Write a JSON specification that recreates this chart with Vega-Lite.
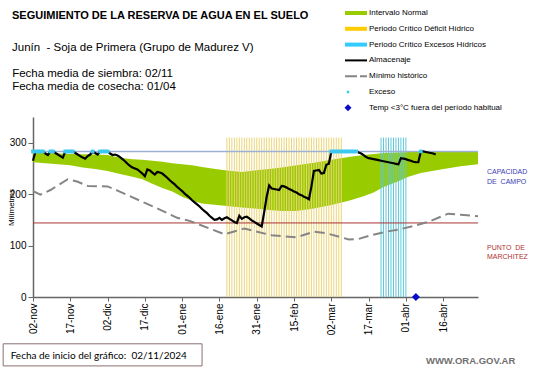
{
  "$schema": "https://vega.github.io/schema/vega-lite/v6.json",
  "width": 445,
  "height": 180,
  "autosize": "none",
  "padding": {"left": 33, "top": 117, "right": 63, "bottom": 71},
  "background": "white",
  "config": {"font": "Liberation Sans", "view": {"stroke": null}, "axisY": {"labelOverlap": false, "labelSeparation": -40, "labelBound": false}},
  "title": {
    "text": "SEGUIMIENTO DE LA RESERVA DE AGUA EN EL SUELO",
    "subtitle": "Junín\u00a0 - Soja de Primera (Grupo de Madurez V)",
    "anchor": "start",
    "frame": "group",
    "dx": -21,
    "offset": -45.6,
    "font": "Liberation Sans",
    "fontSize": 11,
    "fontWeight": "bold",
    "color": "#000000",
    "subtitleFont": "Liberation Sans",
    "subtitleFontSize": 11.5,
    "subtitleColor": "#000000",
    "subtitleLineHeight": 12.7,
    "subtitlePadding": 21
  },
  "datasets": {
    "banda": [
      {"fecha": "2024-11-02", "inf": 262, "sup": 281},
      {"fecha": "2024-11-07", "inf": 260, "sup": 280},
      {"fecha": "2024-11-12", "inf": 258, "sup": 279},
      {"fecha": "2024-11-17", "inf": 256, "sup": 278},
      {"fecha": "2024-11-22", "inf": 252, "sup": 277.5},
      {"fecha": "2024-11-27", "inf": 249, "sup": 277},
      {"fecha": "2024-12-02", "inf": 245, "sup": 276},
      {"fecha": "2024-12-07", "inf": 239, "sup": 271},
      {"fecha": "2024-12-12", "inf": 234, "sup": 268},
      {"fecha": "2024-12-16", "inf": 229, "sup": 267},
      {"fecha": "2024-12-20", "inf": 220, "sup": 265},
      {"fecha": "2024-12-24", "inf": 212, "sup": 263},
      {"fecha": "2024-12-28", "inf": 205, "sup": 260},
      {"fecha": "2025-01-01", "inf": 195, "sup": 258},
      {"fecha": "2025-01-05", "inf": 187, "sup": 256},
      {"fecha": "2025-01-09", "inf": 182, "sup": 253},
      {"fecha": "2025-01-13", "inf": 180, "sup": 250},
      {"fecha": "2025-01-19", "inf": 177, "sup": 246},
      {"fecha": "2025-01-25", "inf": 174, "sup": 243},
      {"fecha": "2025-01-30", "inf": 172, "sup": 246},
      {"fecha": "2025-02-05", "inf": 169, "sup": 249},
      {"fecha": "2025-02-10", "inf": 167, "sup": 252},
      {"fecha": "2025-02-16", "inf": 167, "sup": 256},
      {"fecha": "2025-02-23", "inf": 172, "sup": 261},
      {"fecha": "2025-03-02", "inf": 179, "sup": 267},
      {"fecha": "2025-03-09", "inf": 187, "sup": 272},
      {"fecha": "2025-03-15", "inf": 196, "sup": 276},
      {"fecha": "2025-03-19", "inf": 203, "sup": 278},
      {"fecha": "2025-03-23", "inf": 214, "sup": 280},
      {"fecha": "2025-03-29", "inf": 225, "sup": 281},
      {"fecha": "2025-04-02", "inf": 234, "sup": 282},
      {"fecha": "2025-04-07", "inf": 241, "sup": 282.5},
      {"fecha": "2025-04-15", "inf": 248, "sup": 282.5},
      {"fecha": "2025-04-23", "inf": 254, "sup": 282.5},
      {"fecha": "2025-04-30", "inf": 258, "sup": 282.5}
    ],
    "minimo": [
      {"fecha": "2024-11-02", "mm": 206},
      {"fecha": "2024-11-05", "mm": 199},
      {"fecha": "2024-11-09", "mm": 208},
      {"fecha": "2024-11-16", "mm": 229},
      {"fecha": "2024-11-20", "mm": 224},
      {"fecha": "2024-11-24", "mm": 216},
      {"fecha": "2024-12-02", "mm": 215},
      {"fecha": "2024-12-06", "mm": 207},
      {"fecha": "2024-12-17", "mm": 183},
      {"fecha": "2024-12-23", "mm": 170},
      {"fecha": "2024-12-30", "mm": 154},
      {"fecha": "2025-01-04", "mm": 148},
      {"fecha": "2025-01-18", "mm": 122},
      {"fecha": "2025-01-26", "mm": 133},
      {"fecha": "2025-02-06", "mm": 120},
      {"fecha": "2025-02-16", "mm": 116},
      {"fecha": "2025-02-23", "mm": 127},
      {"fecha": "2025-02-28", "mm": 124},
      {"fecha": "2025-03-09", "mm": 112},
      {"fecha": "2025-03-13", "mm": 113},
      {"fecha": "2025-03-18", "mm": 120},
      {"fecha": "2025-03-24", "mm": 127},
      {"fecha": "2025-03-29", "mm": 131},
      {"fecha": "2025-04-04", "mm": 138},
      {"fecha": "2025-04-10", "mm": 146},
      {"fecha": "2025-04-18", "mm": 162},
      {"fecha": "2025-04-23", "mm": 160},
      {"fecha": "2025-04-30", "mm": 157}
    ],
    "almacenaje": [
      {"fecha": "2024-11-02", "mm": 265}, {"fecha": "2024-11-03", "mm": 283}, {"fecha": "2024-11-04", "mm": 283},
      {"fecha": "2024-11-05", "mm": 283}, {"fecha": "2024-11-06", "mm": 283}, {"fecha": "2024-11-07", "mm": 279},
      {"fecha": "2024-11-08", "mm": 276}, {"fecha": "2024-11-09", "mm": 283}, {"fecha": "2024-11-10", "mm": 283},
      {"fecha": "2024-11-11", "mm": 280}, {"fecha": "2024-11-12", "mm": 277}, {"fecha": "2024-11-13", "mm": 274},
      {"fecha": "2024-11-14", "mm": 271}, {"fecha": "2024-11-15", "mm": 283}, {"fecha": "2024-11-16", "mm": 283},
      {"fecha": "2024-11-17", "mm": 283}, {"fecha": "2024-11-18", "mm": 283}, {"fecha": "2024-11-19", "mm": 280},
      {"fecha": "2024-11-20", "mm": 277}, {"fecha": "2024-11-21", "mm": 274}, {"fecha": "2024-11-22", "mm": 271},
      {"fecha": "2024-11-23", "mm": 269}, {"fecha": "2024-11-24", "mm": 274}, {"fecha": "2024-11-25", "mm": 277},
      {"fecha": "2024-11-26", "mm": 283}, {"fecha": "2024-11-27", "mm": 280}, {"fecha": "2024-11-28", "mm": 277},
      {"fecha": "2024-11-29", "mm": 283}, {"fecha": "2024-11-30", "mm": 283}, {"fecha": "2024-12-01", "mm": 283},
      {"fecha": "2024-12-02", "mm": 283}, {"fecha": "2024-12-03", "mm": 279}, {"fecha": "2024-12-04", "mm": 276},
      {"fecha": "2024-12-05", "mm": 277}, {"fecha": "2024-12-06", "mm": 275}, {"fecha": "2024-12-07", "mm": 272},
      {"fecha": "2024-12-08", "mm": 268}, {"fecha": "2024-12-09", "mm": 264}, {"fecha": "2024-12-10", "mm": 259},
      {"fecha": "2024-12-11", "mm": 255}, {"fecha": "2024-12-12", "mm": 252}, {"fecha": "2024-12-13", "mm": 250},
      {"fecha": "2024-12-14", "mm": 248}, {"fecha": "2024-12-15", "mm": 244}, {"fecha": "2024-12-16", "mm": 240},
      {"fecha": "2024-12-17", "mm": 235}, {"fecha": "2024-12-18", "mm": 248}, {"fecha": "2024-12-19", "mm": 246},
      {"fecha": "2024-12-20", "mm": 242}, {"fecha": "2024-12-21", "mm": 238}, {"fecha": "2024-12-22", "mm": 243},
      {"fecha": "2024-12-23", "mm": 242}, {"fecha": "2024-12-24", "mm": 240}, {"fecha": "2024-12-25", "mm": 236},
      {"fecha": "2024-12-26", "mm": 232}, {"fecha": "2024-12-27", "mm": 227}, {"fecha": "2024-12-28", "mm": 223},
      {"fecha": "2024-12-29", "mm": 219}, {"fecha": "2024-12-30", "mm": 214}, {"fecha": "2024-12-31", "mm": 210},
      {"fecha": "2025-01-01", "mm": 206}, {"fecha": "2025-01-02", "mm": 201}, {"fecha": "2025-01-03", "mm": 197},
      {"fecha": "2025-01-04", "mm": 193}, {"fecha": "2025-01-05", "mm": 188}, {"fecha": "2025-01-06", "mm": 184},
      {"fecha": "2025-01-07", "mm": 180}, {"fecha": "2025-01-08", "mm": 176}, {"fecha": "2025-01-09", "mm": 171},
      {"fecha": "2025-01-10", "mm": 167}, {"fecha": "2025-01-11", "mm": 163}, {"fecha": "2025-01-12", "mm": 158},
      {"fecha": "2025-01-13", "mm": 154}, {"fecha": "2025-01-14", "mm": 150}, {"fecha": "2025-01-15", "mm": 151},
      {"fecha": "2025-01-16", "mm": 154}, {"fecha": "2025-01-17", "mm": 150}, {"fecha": "2025-01-18", "mm": 153},
      {"fecha": "2025-01-19", "mm": 155}, {"fecha": "2025-01-20", "mm": 152}, {"fecha": "2025-01-21", "mm": 149},
      {"fecha": "2025-01-22", "mm": 146}, {"fecha": "2025-01-23", "mm": 144}, {"fecha": "2025-01-24", "mm": 158},
      {"fecha": "2025-01-25", "mm": 152}, {"fecha": "2025-01-26", "mm": 155}, {"fecha": "2025-01-27", "mm": 156},
      {"fecha": "2025-01-28", "mm": 153}, {"fecha": "2025-01-29", "mm": 149}, {"fecha": "2025-01-30", "mm": 146},
      {"fecha": "2025-01-31", "mm": 143}, {"fecha": "2025-02-01", "mm": 140}, {"fecha": "2025-02-02", "mm": 137},
      {"fecha": "2025-02-03", "mm": 165}, {"fecha": "2025-02-04", "mm": 195}, {"fecha": "2025-02-05", "mm": 217},
      {"fecha": "2025-02-06", "mm": 211}, {"fecha": "2025-02-07", "mm": 210}, {"fecha": "2025-02-08", "mm": 209},
      {"fecha": "2025-02-09", "mm": 208}, {"fecha": "2025-02-10", "mm": 216}, {"fecha": "2025-02-11", "mm": 215},
      {"fecha": "2025-02-12", "mm": 213}, {"fecha": "2025-02-13", "mm": 210}, {"fecha": "2025-02-14", "mm": 208},
      {"fecha": "2025-02-15", "mm": 205}, {"fecha": "2025-02-16", "mm": 203}, {"fecha": "2025-02-17", "mm": 200},
      {"fecha": "2025-02-18", "mm": 198}, {"fecha": "2025-02-19", "mm": 195}, {"fecha": "2025-02-20", "mm": 193},
      {"fecha": "2025-02-21", "mm": 190}, {"fecha": "2025-02-22", "mm": 215}, {"fecha": "2025-02-23", "mm": 245},
      {"fecha": "2025-02-24", "mm": 246}, {"fecha": "2025-02-25", "mm": 247}, {"fecha": "2025-02-26", "mm": 240},
      {"fecha": "2025-02-27", "mm": 241}, {"fecha": "2025-02-28", "mm": 257}, {"fecha": "2025-03-01", "mm": 259},
      {"fecha": "2025-03-02", "mm": 283}, {"fecha": "2025-03-03", "mm": 283}, {"fecha": "2025-03-04", "mm": 283},
      {"fecha": "2025-03-05", "mm": 283}, {"fecha": "2025-03-06", "mm": 283}, {"fecha": "2025-03-07", "mm": 283},
      {"fecha": "2025-03-08", "mm": 283}, {"fecha": "2025-03-09", "mm": 283}, {"fecha": "2025-03-10", "mm": 283},
      {"fecha": "2025-03-11", "mm": 283}, {"fecha": "2025-03-12", "mm": 283}, {"fecha": "2025-03-13", "mm": 281},
      {"fecha": "2025-03-14", "mm": 279}, {"fecha": "2025-03-15", "mm": 276}, {"fecha": "2025-03-16", "mm": 272},
      {"fecha": "2025-03-17", "mm": 270}, {"fecha": "2025-03-18", "mm": 269}, {"fecha": "2025-03-19", "mm": 268},
      {"fecha": "2025-03-20", "mm": 267}, {"fecha": "2025-03-21", "mm": 266}, {"fecha": "2025-03-22", "mm": 265},
      {"fecha": "2025-03-23", "mm": 264}, {"fecha": "2025-03-24", "mm": 263}, {"fecha": "2025-03-25", "mm": 262},
      {"fecha": "2025-03-26", "mm": 261}, {"fecha": "2025-03-27", "mm": 260}, {"fecha": "2025-03-28", "mm": 259},
      {"fecha": "2025-03-29", "mm": 258}, {"fecha": "2025-03-30", "mm": 270}, {"fecha": "2025-03-31", "mm": 269},
      {"fecha": "2025-04-01", "mm": 268}, {"fecha": "2025-04-02", "mm": 266}, {"fecha": "2025-04-03", "mm": 265},
      {"fecha": "2025-04-04", "mm": 263}, {"fecha": "2025-04-05", "mm": 262}, {"fecha": "2025-04-06", "mm": 262},
      {"fecha": "2025-04-07", "mm": 283}, {"fecha": "2025-04-08", "mm": 283}, {"fecha": "2025-04-09", "mm": 282},
      {"fecha": "2025-04-10", "mm": 281}, {"fecha": "2025-04-11", "mm": 280}, {"fecha": "2025-04-12", "mm": 279},
      {"fecha": "2025-04-13", "mm": 277}
    ],
    "exceso": [
      {"fecha": "2024-11-02", "mm": 283}, {"fecha": "2024-11-03", "mm": 283}, {"fecha": "2024-11-04", "mm": 283},
      {"fecha": "2024-11-05", "mm": 283}, {"fecha": "2024-11-06", "mm": 283},
      {"fecha": "2024-11-09", "mm": 283}, {"fecha": "2024-11-10", "mm": 283},
      {"fecha": "2024-11-15", "mm": 283}, {"fecha": "2024-11-16", "mm": 283}, {"fecha": "2024-11-17", "mm": 283},
      {"fecha": "2024-11-18", "mm": 283},
      {"fecha": "2024-11-26", "mm": 283},
      {"fecha": "2024-11-29", "mm": 283}, {"fecha": "2024-11-30", "mm": 283}, {"fecha": "2024-12-01", "mm": 283},
      {"fecha": "2024-12-02", "mm": 283},
      {"fecha": "2025-03-02", "mm": 283}, {"fecha": "2025-03-03", "mm": 283}, {"fecha": "2025-03-04", "mm": 283},
      {"fecha": "2025-03-05", "mm": 283}, {"fecha": "2025-03-06", "mm": 283}, {"fecha": "2025-03-07", "mm": 283},
      {"fecha": "2025-03-08", "mm": 283}, {"fecha": "2025-03-09", "mm": 283}, {"fecha": "2025-03-10", "mm": 283},
      {"fecha": "2025-03-11", "mm": 283}, {"fecha": "2025-03-12", "mm": 283},
      {"fecha": "2025-04-07", "mm": 283}
    ],
    "deficit": [
      {"fecha": "2025-01-19"}, {"fecha": "2025-01-20"}, {"fecha": "2025-01-21"}, {"fecha": "2025-01-22"},
      {"fecha": "2025-01-23"}, {"fecha": "2025-01-24"}, {"fecha": "2025-01-25"}, {"fecha": "2025-01-26"},
      {"fecha": "2025-01-27"}, {"fecha": "2025-01-28"}, {"fecha": "2025-01-29"}, {"fecha": "2025-01-30"},
      {"fecha": "2025-01-31"}, {"fecha": "2025-02-01"}, {"fecha": "2025-02-02"}, {"fecha": "2025-02-03"},
      {"fecha": "2025-02-04"}, {"fecha": "2025-02-05"}, {"fecha": "2025-02-06"}, {"fecha": "2025-02-07"},
      {"fecha": "2025-02-08"}, {"fecha": "2025-02-09"}, {"fecha": "2025-02-10"}, {"fecha": "2025-02-11"},
      {"fecha": "2025-02-12"}, {"fecha": "2025-02-13"}, {"fecha": "2025-02-14"}, {"fecha": "2025-02-15"},
      {"fecha": "2025-02-16"}, {"fecha": "2025-02-17"}, {"fecha": "2025-02-18"}, {"fecha": "2025-02-19"},
      {"fecha": "2025-02-20"}, {"fecha": "2025-02-21"}, {"fecha": "2025-02-22"}, {"fecha": "2025-02-23"},
      {"fecha": "2025-02-24"}, {"fecha": "2025-02-25"}, {"fecha": "2025-02-26"}, {"fecha": "2025-02-27"},
      {"fecha": "2025-02-28"}, {"fecha": "2025-03-01"}, {"fecha": "2025-03-02"}, {"fecha": "2025-03-03"},
      {"fecha": "2025-03-04"}, {"fecha": "2025-03-05"}, {"fecha": "2025-03-06"}
    ],
    "excesos_periodo": [
      {"fecha": "2025-03-22"}, {"fecha": "2025-03-23"}, {"fecha": "2025-03-24"}, {"fecha": "2025-03-25"},
      {"fecha": "2025-03-26"}, {"fecha": "2025-03-27"}, {"fecha": "2025-03-28"}, {"fecha": "2025-03-29"},
      {"fecha": "2025-03-30"}, {"fecha": "2025-03-31"}, {"fecha": "2025-04-01"}
    ],
    "helada": [{"fecha": "2025-04-05", "mm": 0}],
    "leyenda": [],
    "uno": [{}]
  },
  "layer": [
    {
      "data": {"name": "banda"},
      "mark": {"type": "area", "color": "#99CC00", "opacity": 1},
      "encoding": {
        "x": {
          "field": "fecha", "type": "temporal",
          "scale": {"type": "utc", "nice": false,
            "domain": [{"year": 2024, "month": 11, "date": 2, "utc": true}, {"year": 2025, "month": 4, "date": 30, "utc": true}]},
          "axis": {
            "title": null, "grid": false,
            "values": [
              {"year": 2024, "month": 11, "date": 2, "utc": true},
              {"year": 2024, "month": 11, "date": 17, "utc": true},
              {"year": 2024, "month": 12, "date": 2, "utc": true},
              {"year": 2024, "month": 12, "date": 17, "utc": true},
              {"year": 2025, "month": 1, "date": 1, "utc": true},
              {"year": 2025, "month": 1, "date": 16, "utc": true},
              {"year": 2025, "month": 1, "date": 31, "utc": true},
              {"year": 2025, "month": 2, "date": 15, "utc": true},
              {"year": 2025, "month": 3, "date": 2, "utc": true},
              {"year": 2025, "month": 3, "date": 17, "utc": true},
              {"year": 2025, "month": 4, "date": 1, "utc": true},
              {"year": 2025, "month": 4, "date": 16, "utc": true}
            ],
            "labelExpr": "utcFormat(datum.value, '%d') + '-' + ['ene','feb','mar','abr','may','jun','jul','ago','sep','oct','nov','dic'][utcmonth(datum.value)]",
            "labelAngle": 270,
            "labelFont": "Liberation Sans", "labelFontSize": 10, "labelColor": "#000000",
            "labelPadding": 2, "labelOverlap": false,
            "tickSize": 4, "tickColor": "#666666", "domainColor": "#666666", "domainWidth": 1.5
          }
        },
        "y": {
          "field": "inf", "type": "quantitative",
          "scale": {"domain": [0, 350], "nice": false},
          "axis": {"title": "Milímetros", "titleFont": "Liberation Sans", "titleFontSize": 8, "titleFontWeight": "normal", "titleColor": "#000000", "titleX": -18, "titleY": 90, "values": [0, 50, 100, 150, 200, 250, 300, 350], "labelOverlap": false, "labelSeparation": -40, "labelBound": false, "grid": false, "labelFont": "Liberation Sans", "labelFontSize": 10, "labelColor": "#000000", "tickSize": 5, "tickColor": "#666666", "domainColor": "#666666", "domainWidth": 1.5, "labelPadding": 2}
        },
        "y2": {"field": "sup"}
      }
    },
    {
      "data": {"name": "deficit"},
      "mark": {"type": "rule", "color": "#EBD578", "strokeWidth": 1},
      "encoding": {
        "x": {"field": "fecha", "type": "temporal"},
        "y": {"datum": 0, "type": "quantitative"},
        "y2": {"datum": 310}
      }
    },
    {
      "data": {"name": "excesos_periodo"},
      "mark": {"type": "rule", "color": "#5CC8DA", "strokeWidth": 1},
      "encoding": {
        "x": {"field": "fecha", "type": "temporal"},
        "y": {"datum": 0, "type": "quantitative"},
        "y2": {"datum": 310}
      }
    },
    {
      "data": {"name": "uno"},
      "mark": {"type": "rule", "color": "#9DB1D6", "strokeWidth": 1.5},
      "encoding": {"y": {"datum": 283, "type": "quantitative"}}
    },
    {
      "data": {"name": "uno"},
      "mark": {"type": "rule", "color": "#A83232", "strokeWidth": 1},
      "encoding": {"y": {"datum": 144, "type": "quantitative"}}
    },
    {
      "data": {"name": "minimo"},
      "mark": {"type": "line", "color": "#858585", "strokeWidth": 2, "strokeDash": [10, 5]},
      "encoding": {
        "x": {"field": "fecha", "type": "temporal"},
        "y": {"field": "mm", "type": "quantitative"}
      }
    },
    {
      "data": {"name": "almacenaje"},
      "mark": {"type": "line", "color": "#000000", "strokeWidth": 2.2},
      "encoding": {
        "x": {"field": "fecha", "type": "temporal"},
        "y": {"field": "mm", "type": "quantitative"}
      }
    },
    {
      "data": {"name": "exceso"},
      "mark": {"type": "point", "shape": "square", "filled": true, "size": 14, "color": "#3CC8F0", "opacity": 1},
      "encoding": {
        "x": {"field": "fecha", "type": "temporal"},
        "y": {"field": "mm", "type": "quantitative"}
      }
    },
    {
      "data": {"name": "helada"},
      "mark": {"type": "point", "shape": "diamond", "filled": true, "size": 64, "color": "#0A0ACC", "opacity": 1},
      "encoding": {
        "x": {"field": "fecha", "type": "temporal"},
        "y": {"field": "mm", "type": "quantitative"}
      }
    },
    {
      "data": {"name": "leyenda"},
      "mark": {"type": "point", "filled": true, "opacity": 1},
      "encoding": {
        "color": {
          "field": "serie", "type": "nominal",
          "scale": {
            "domain": ["Intervalo Normal", "Periodo Crítico Déficit Hídrico", "Periodo Crítico Excesos Hídricos", "Almacenaje", "Mínimo histórico", "Exceso", "Temp <3°C fuera del período habitual"],
            "range": ["#99CC00", "#FFCC00", "#33CCFF", "#000000", "#858585", "#33CCEE", "#0A0ACC"]
          },
          "legend": {
            "title": null, "orient": "none", "legendX": 318, "legendY": -109, "direction": "vertical",
            "padding": 0, "symbolSize": 100, "symbolStrokeWidth": 0, "labelOffset": 8,
            "labelFont": "Liberation Sans", "labelFontSize": 8, "labelColor": "#000000", "labelLimit": 300,
            "rowPadding": 6.8,
            "encode": {
              "labels": {
                "dx": {"condition": {"test": "datum.value == 'Exceso' || datum.value == 'Temp <3°C fuera del período habitual'", "value": 13}, "value": 0},
                "fontSize": {"condition": {"test": "datum.value == 'Temp <3°C fuera del período habitual'", "value": 9}, "value": 8}
              }
            }
          }
        },
        "shape": {
          "field": "serie", "type": "nominal",
          "scale": {
            "domain": ["Intervalo Normal", "Periodo Crítico Déficit Hídrico", "Periodo Crítico Excesos Hídricos", "Almacenaje", "Mínimo histórico", "Exceso", "Temp <3°C fuera del período habitual"],
            "range": [
              "M-2.2,-0.4H2.2V0.4H-2.2Z",
              "M-2.2,-0.4H2.2V0.4H-2.2Z",
              "M-2.2,-0.4H2.2V0.4H-2.2Z",
              "M-2.2,-0.2H2.2V0.2H-2.2Z",
              "M-2.2,-0.2H0.2V0.2H-2.2Z M0.8,-0.2H2.2V0.2H0.8Z",
              "M-1.85,-0.25H-1.35V0.25H-1.85Z",
              "M-1.6,-0.7L-0.9,0L-1.6,0.7L-2.3,0Z"
            ]
          },
          "legend": {"title": null}
        }
      }
    },
    {
      "data": {"name": "uno"},
      "mark": {"type": "text", "text": ["Fecha media de siembra: 02/11", "Fecha media de cosecha: 01/04"], "align": "left", "baseline": "alphabetic", "dx": 1.5,
        "font": "Liberation Sans", "fontSize": 11.5, "color": "#000000", "lineHeight": 12.7},
      "encoding": {
        "x": {"datum": 1729728000000, "type": "temporal"},
        "y": {"datum": 427, "type": "quantitative"}
      }
    },
    {
      "data": {"name": "uno"},
      "mark": {"type": "text", "text": ["CAPACIDAD", "DE\u00a0 CAMPO"], "align": "left", "baseline": "middle", "dx": 9,
        "font": "Liberation Sans", "fontSize": 7, "color": "#3C3CB4", "lineHeight": 9.5},
      "encoding": {
        "x": {"datum": 1745971200000, "type": "temporal"},
        "y": {"datum": 243, "type": "quantitative"}
      }
    },
    {
      "data": {"name": "uno"},
      "mark": {"type": "text", "text": ["PUNTO\u00a0 DE", "MARCHITEZ"], "align": "left", "baseline": "middle", "dx": 9,
        "font": "Liberation Sans", "fontSize": 7, "color": "#B03232", "lineHeight": 9.5},
      "encoding": {
        "x": {"datum": 1745971200000, "type": "temporal"},
        "y": {"datum": 96, "type": "quantitative"}
      }
    },
    {
      "data": {"name": "uno"},
      "mark": {"type": "rect", "fill": "#FFFFFF", "stroke": "#8B6F6F", "strokeWidth": 1},
      "encoding": {
        "x": {"datum": 1729468800000, "type": "temporal"},
        "x2": {"datum": 1736380800000},
        "y": {"datum": -91, "type": "quantitative"},
        "y2": {"datum": -134}
      }
    },
    {
      "data": {"name": "uno"},
      "mark": {"type": "text", "text": "Fecha de inicio del gráfico:\u00a0 02/11/2024", "align": "left", "baseline": "alphabetic",
        "font": "Lato", "fontSize": 10, "color": "#000000"},
      "encoding": {
        "x": {"datum": 1729728000000, "type": "temporal"},
        "y": {"datum": -120.5, "type": "quantitative"}
      }
    },
    {
      "data": {"name": "uno"},
      "mark": {"type": "text", "text": "WWW.ORA.GOV.AR", "align": "right", "baseline": "alphabetic",
        "font": "Liberation Sans", "fontSize": 9.5, "fontWeight": "bold", "color": "#707070"},
      "encoding": {
        "x": {"datum": 1747267200000, "type": "temporal"},
        "y": {"datum": -130.3, "type": "quantitative"}
      }
    }
  ]
}
